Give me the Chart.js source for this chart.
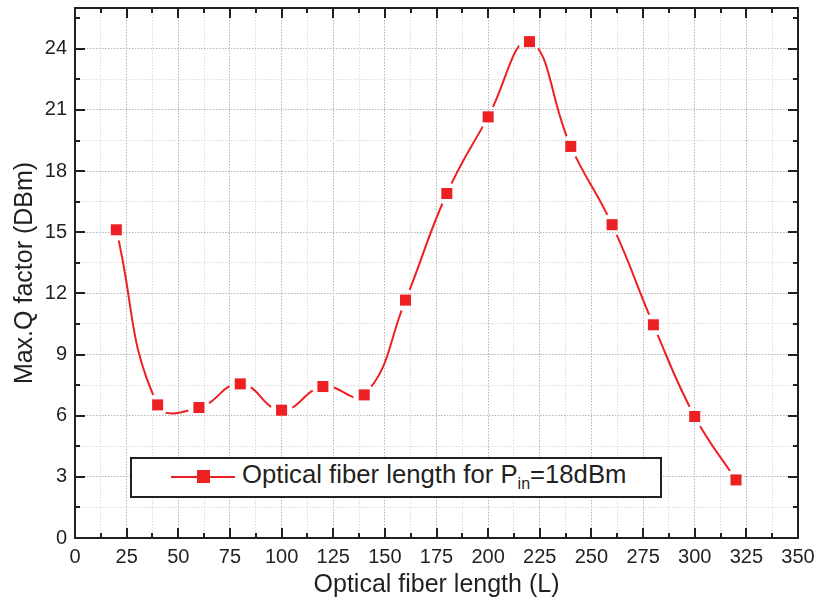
<!DOCTYPE html>
<html>
<head>
<meta charset="utf-8">
<script src="https://cdn.jsdelivr.net/npm/chart.js@4"></script>
<style>
  body { margin: 0; background: #fff; }
  #wrap { position: relative; width: 819px; height: 600px; }
  #legendBox {
    position: absolute; left: 130px; top: 457px; width: 528px; height: 37px;
    border: 2px solid #231f20; background: #fff;
    font-family: "Liberation Sans", Arial, sans-serif; font-size: 25.7px; color: #231f20;
  }
  #legendBox .ln { position: absolute; left: 39px; top: 17px; width: 64px; height: 2px; background: #ed2024; }
  #legendBox .sq { position: absolute; left: 65px; top: 11px; width: 13px; height: 13px; background: #ed2024; }
  #legendBox .txt { position: absolute; left: 110px; top: 1px; white-space: nowrap; }
  #legendBox sub { font-size: 16px; vertical-align: -6px; line-height: 0; }
</style>
</head>
<body>
<div id="wrap">
  <canvas id="qChart" width="819" height="600"></canvas>
  <div id="legendBox">
    <div class="ln"></div><div class="sq"></div>
    <div class="txt">Optical fiber length for P<sub>in</sub>=18dBm</div>
  </div>
</div>
<script>
const fiberLength = [20, 40, 60, 80, 100, 120, 140, 160, 180, 200, 220, 240, 260, 280, 300, 320];
const maxQ = [15.12, 6.53, 6.4, 7.56, 6.27, 7.43, 7.02, 11.67, 16.9, 20.66, 24.35, 19.21, 15.37, 10.46, 5.96, 2.85];

const red = "#ed2024";
const ink = "#231f20";
const points = fiberLength.map((x, i) => ({ x: x, y: maxQ[i] }));

function isStep(v, step) {
  return Math.abs(v / step - Math.round(v / step)) < 1e-6;
}

// line is cut around each marker, like Origin does
const gapPlugin = {
  id: "gaps",
  beforeDatasetDraw(chart, args) {
    if (args.index !== 0) return;
    const ctx = chart.ctx;
    const gap = 11;
    ctx.save();
    ctx.beginPath();
    ctx.rect(0, 0, chart.width, chart.height);
    chart.getDatasetMeta(0).data.forEach(p => {
      ctx.moveTo(p.x + gap, p.y);
      ctx.arc(p.x, p.y, gap, 0, Math.PI * 2, true);
    });
    ctx.clip("evenodd");
  },
  afterDatasetDraw(chart, args) {
    if (args.index === 0) chart.ctx.restore();
  }
};

// frame box with inward ticks on all four sides
const framePlugin = {
  id: "frame",
  afterDraw(chart) {
    const ctx = chart.ctx, a = chart.chartArea;
    const xs = chart.scales.x, ys = chart.scales.y;
    ctx.save();
    ctx.strokeStyle = ink;
    ctx.lineWidth = 2;
    ctx.beginPath();
    for (let v = 0; v <= 350 + 1e-6; v += 12.5) {
      const px = Math.round(xs.getPixelForValue(v));
      const len = isStep(v, 25) ? 10 : 5;
      ctx.moveTo(px, a.bottom); ctx.lineTo(px, a.bottom - len);
      ctx.moveTo(px, a.top); ctx.lineTo(px, a.top + len);
    }
    for (let v = 0; v <= 25.5 + 1e-6; v += 1.5) {
      const py = Math.round(ys.getPixelForValue(v));
      const len = isStep(v, 3) ? 10 : 5;
      ctx.moveTo(a.left, py); ctx.lineTo(a.left + len, py);
      ctx.moveTo(a.right, py); ctx.lineTo(a.right - len, py);
    }
    ctx.stroke();
    ctx.strokeRect(a.left, a.top, a.right - a.left, a.bottom - a.top);
    ctx.restore();
  }
};

const tickFont = { family: "'Liberation Sans', Arial, sans-serif", size: 20 };
const titleFont = { family: "'Liberation Sans', Arial, sans-serif", size: 25 };

new Chart(document.getElementById("qChart").getContext("2d"), {
  type: "line",
  data: {
    datasets: [
      {
        data: points,
        borderColor: red,
        borderWidth: 2,
        tension: 0.45,
        pointRadius: 0,
        fill: false
      },
      {
        data: points,
        showLine: false,
        pointStyle: "rect",
        pointRadius: 7.8,
        pointBackgroundColor: red,
        pointBorderWidth: 0,
        pointBorderColor: red
      }
    ]
  },
  options: {
    responsive: false,
    animation: false,
    layout: { padding: { top: 8, right: 21, left: 0, bottom: 0 } },
    plugins: { legend: { display: false }, tooltip: { enabled: false } },
    scales: {
      x: {
        type: "linear",
        min: 0,
        max: 350,
        afterFit(scale) {
          scale.height = 62;
          scale.paddingLeft = 0;
          scale.paddingRight = 0;
        },
        ticks: {
          stepSize: 12.5,
          autoSkip: false,
          maxRotation: 0,
          padding: 7,
          color: ink,
          font: tickFont,
          callback: v => isStep(v, 25) ? v : ""
        },
        grid: {
          drawTicks: false,
          color: c => (c.tick && isStep(c.tick.value, 25)) ? "#b4b4b4" : "#dcdcdc"
        },
        border: { display: false, dash: [1.5, 1.5] },
        title: {
          display: true,
          text: "Optical fiber length (L)",
          color: ink,
          font: titleFont,
          padding: { top: 0, bottom: 0 }
        }
      },
      y: {
        min: 0,
        max: 26,
        afterFit(scale) {
          scale.width = 75;
          scale.paddingTop = 0;
          scale.paddingBottom = 0;
        },
        ticks: {
          stepSize: 1.5,
          autoSkip: false,
          padding: 8,
          color: ink,
          font: tickFont,
          callback: v => (isStep(v, 3) && v <= 24) ? v : ""
        },
        grid: {
          drawTicks: false,
          color: c => (c.tick && isStep(c.tick.value, 3)) ? "#b4b4b4" : "#dcdcdc"
        },
        border: { display: false, dash: [1.5, 1.5] },
        title: {
          display: true,
          text: "Max.Q factor (DBm)",
          color: ink,
          font: titleFont,
          padding: { top: 10, bottom: 0 }
        }
      }
    }
  },
  plugins: [gapPlugin, framePlugin]
});
</script>
</body>
</html>
